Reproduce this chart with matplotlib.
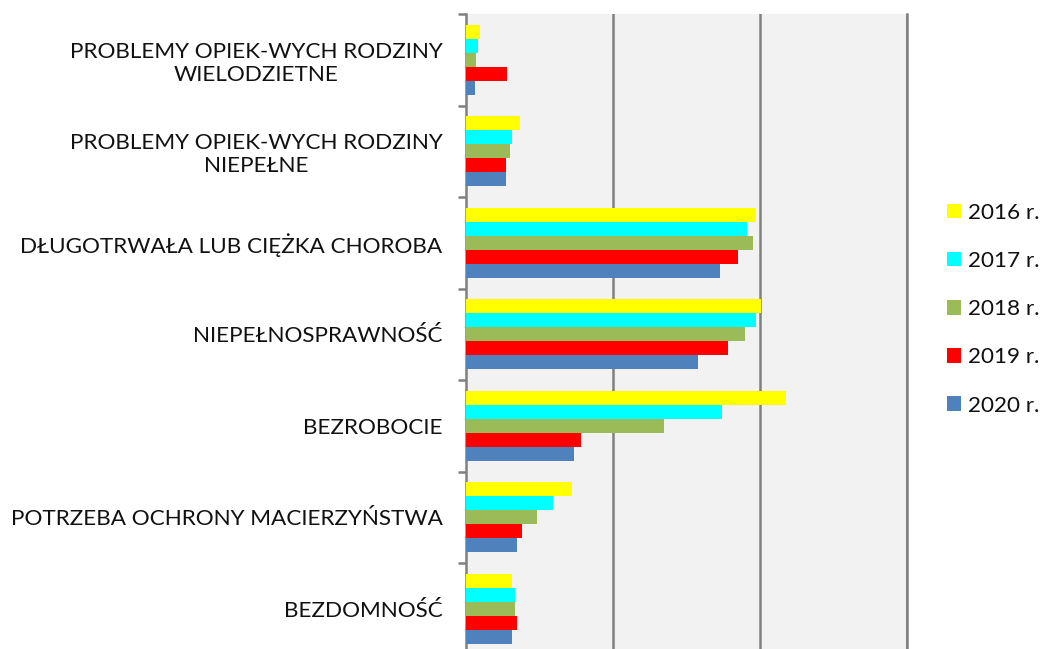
import matplotlib
matplotlib.use("Agg")
import matplotlib.pyplot as plt
import numpy as np
from matplotlib.ticker import FixedLocator

plt.rcParams['font.family'] = ['Lato', 'DejaVu Sans']

categories = [
    "PROBLEMY OPIEK-WYCH RODZINY\nWIELODZIETNE",
    "PROBLEMY OPIEK-WYCH RODZINY\nNIEPEŁNE",
    "DŁUGOTRWAŁA LUB CIĘŻKA CHOROBA",
    "NIEPEŁNOSPRAWNOŚĆ",
    "BEZROBOCIE",
    "POTRZEBA OCHRONY MACIERZYŃSTWA",
    "BEZDOMNOŚĆ",
]
series_labels = ["2016 r.", "2017 r.", "2018 r.", "2019 r.", "2020 r."]
v2016 = [9.5, 37, 197, 201, 218, 72, 31]
v2017 = [8, 31, 191, 197, 174, 59, 33]
v2018 = [6.8, 30, 195, 190, 135, 48, 33]
v2019 = [27.6, 27.4, 185, 178, 78, 38, 34.6]
v2020 = [5.9, 27.4, 173, 158, 73.5, 34.6, 31]
colors = ["#FFFF00", "#00FFFF", "#9BBB59", "#FF0000", "#4F81BD"]

series = [v2016, v2017, v2018, v2019, v2020]

fig = plt.figure(figsize=(10.48, 6.49), dpi=100)
ax = fig.add_axes([466/1048, (649-654.5)/649, (907-466)/1048, (654.5-14)/649])
ax.set_facecolor("#F2F2F2")

n = len(series)
bh = 0.153
y = np.arange(len(categories))
for i, (vals, c, lab) in enumerate(zip(series, colors, series_labels)):
    off = (i - (n-1)/2) * bh
    ax.barh(y + off, vals, height=bh, color=c, label=lab, zorder=3)

ax.set_xlim(0, 300)
ax.set_ylim(6.5, -0.5)
ax.set_xticks([100, 200, 300])
ax.xaxis.grid(True, color="#808080", linewidth=1.8, zorder=1)
ax.tick_params(axis='x', length=0, labelbottom=False)
ax.set_yticks(y)
ax.set_yticklabels(categories, fontsize=16.2, color="#111111", multialignment='center', linespacing=1.2)
ax.tick_params(axis='y', which='major', length=0, pad=17)
ax.yaxis.set_minor_locator(FixedLocator(np.arange(-0.5, 7.0, 1.0)))
ax.tick_params(axis='y', which='minor', length=6, width=1.8, color="#808080", direction='out')
for s in ['top', 'bottom']:
    ax.spines[s].set_visible(False)
ax.spines['left'].set_color("#808080")
ax.spines['left'].set_linewidth(1.8)
ax.spines['right'].set_color("#808080")
ax.spines['right'].set_linewidth(1.8)

handles, labels = ax.get_legend_handles_labels()
fig.legend(handles, labels, loc='upper left', bbox_to_anchor=(947/1048, 1-203/649),
           frameon=False, fontsize=16.2, handlelength=0.62, handleheight=0.62,
           handletextpad=0.33, labelspacing=1.25, borderpad=0, borderaxespad=0,
           labelcolor="#111111")

fig.savefig("out.png", dpi=100)
